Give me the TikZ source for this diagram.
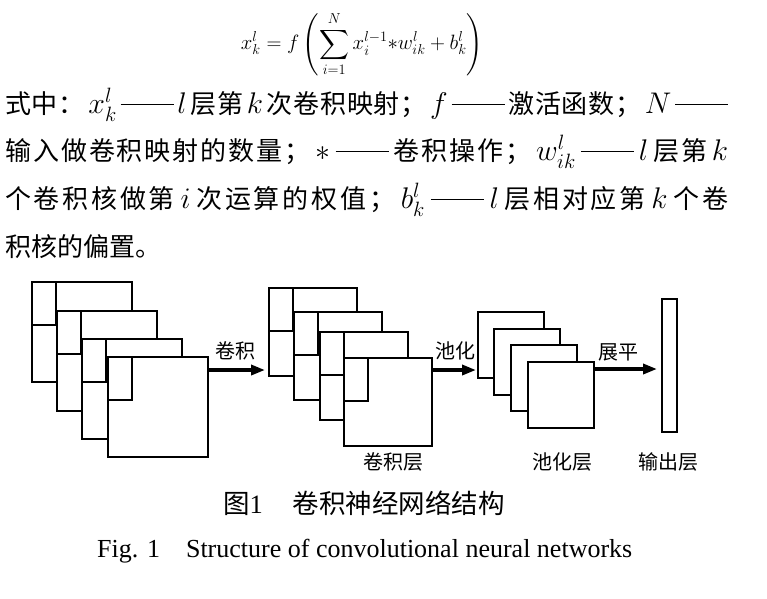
\documentclass[tikz,border=0pt]{standalone}
\usepackage{amsmath}
\usepackage{graphicx}
\usepackage{fontspec}
\setmainfont{Liberation Serif}
\newfontfamily\cjk{Noto Sans CJK SC}
\usetikzlibrary{arrows.meta}
% stretchable glue between hanzi, for justified lines
\XeTeXinterchartokenstate=1
\newXeTeXintercharclass\hanzi
\makeatletter
\@tempcnta="4E00
\loop\ifnum\@tempcnta<"A000 \XeTeXcharclass\@tempcnta=\hanzi \advance\@tempcnta by 1 \repeat
\makeatother
\XeTeXcharclass"FF1B=\hanzi
\XeTeXcharclass"FF1A=\hanzi
\XeTeXinterchartoks\hanzi\hanzi={\hskip 0pt plus 1pt}
\newcommand\gap{\hskip 3pt plus 1pt}
\newcommand\dash{\rule[8.5pt]{53pt}{1.2pt}}
\newcommand\mth[1]{\scalebox{1.2}{$#1$}}
\tikzset{
  fmap/.style={draw, fill=white, line width=1.1pt, inner sep=0pt, outer sep=0pt, anchor=north west},
  kern/.style={draw, line width=1.1pt},
  flow/.style={line width=3.4pt, -{Triangle[length=14pt,width=10pt]}},
  lbl/.style={font=\cjk\fontsize{20}{20}\selectfont, inner sep=0pt},
  para/.style={anchor=west, inner sep=0pt, font=\cjk\fontsize{26}{26}\selectfont},
}
\begin{document}
\begin{tikzpicture}[x=1pt,y=-1pt]
\useasboundingbox (0,0) rectangle (767,598);
% formula
\node (eq) at (362,44) {\fontsize{20.5}{25}\selectfont
  $\displaystyle x_k^l = f\left(\sum_{i=1}^{N} x_i^{l-1} {*} w_{ik}^l + b_k^l\right)$};
% explanation lines
\node[para] (p1) at (5,105) {\makebox[723pt][s]{式中：\gap{}\mth{x_k^l}\gap{}\dash{}\gap{}\mth{l}\gap{}层第\gap{}\mth{k}\gap{}次卷积映射；\gap{}\mth{f}\gap{}\dash{}\gap{}激活函数；\gap{}\mth{N}\gap{}\dash{}}};
\node[para] (p2) at (5,152) {\makebox[723pt][s]{输入做卷积映射的数量；\gap{}\mth{*}\gap{}\dash{}\gap{}卷积操作；\gap{}\mth{w_{ik}^l}\gap{}\dash{}\gap{}\mth{l}\gap{}层第\gap{}\mth{k}}};
\node[para] (p3) at (5,200) {\makebox[723pt][s]{个卷积核做第\gap{}\mth{i}\gap{}次运算的权值；\gap{}\mth{b_k^l}\gap{}\dash{}\gap{}\mth{l}\gap{}层相对应第\gap{}\mth{k}\gap{}个卷}};
\node[para] (p4) at (5,247) {积核的偏置。};
% input maps
\foreach \n/\x/\y in {1/32/282, 2/57/311, 3/82/339, 4/108/357}{
  \node[fmap, minimum size=100pt] (in\n) at (\x,\y) {};
  \draw[kern] (in\n.north west) rectangle ++(24,43);
}
% convolution layer
\foreach \n/\x/\y in {1/269/288, 2/294/312, 3/320/332, 4/344/358}{
  \node[fmap, minimum size=88pt] (cv\n) at (\x,\y) {};
  \draw[kern] (cv\n.north west) rectangle ++(24,43);
}
% pooling layer
\foreach \n/\x/\y in {1/478/312, 2/494/329, 3/511/345, 4/528/362}{
  \node[fmap, minimum size=66pt] (pl\n) at (\x,\y) {};
}
% output layer
\node[fmap, minimum width=15pt, minimum height=133pt] (out) at (662,299) {};
% arrows
\coordinate (t1) at (265,370);
\coordinate (t2) at (476,370);
\coordinate (t3) at (657,369);
\draw[flow] (in4.east |- t1) -- (t1);
\draw[flow] (cv4.east |- t2) -- (t2);
\draw[flow] (pl4.east |- t3) -- (t3);
\node[lbl] (a1) at (235,351) {卷积};
\node[lbl] (a2) at (455,351) {池化};
\node[lbl] (a3) at (618,352) {展平};
% layer names
\node[lbl] (n1) at (393,462) {卷积层};
\node[lbl] (n2) at (562,462) {池化层};
\node[lbl] (n3) at (668,462) {输出层};
% captions
\node[inner sep=0pt, anchor=west] (cap1) at (223,503) {\cjk\fontsize{26.5}{26.5}\selectfont 图{\rmfamily 1}\hspace{30pt}卷积神经网络结构};
\node[inner sep=0pt, anchor=west] (cap2) at (97,551) {\fontsize{26}{26}\selectfont Fig. 1\hspace{26pt}Structure of convolutional neural networks};
\end{tikzpicture}
\end{document}
